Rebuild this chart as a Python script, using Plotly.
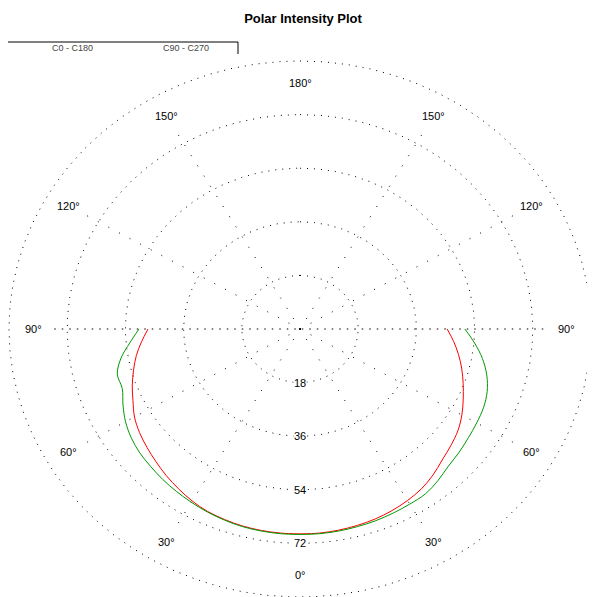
import numpy as np
import plotly.graph_objects as go

# ---- data (gamma measured from nadir, degrees) ----
gamma = [0, 5, 10, 15, 20, 25, 30, 35, 40, 45, 50, 55, 60, 65, 70, 75, 80, 85, 90]
c0 = [68.8, 68.8, 68.6, 68.3, 67.9, 67.3, 66.5, 65.5, 64.0, 62.2, 60.9, 59.6, 57.8, 55.7, 53.7, 51.8, 49.8, 47.7, 45.5]
c180 = [68.8, 68.8, 68.7, 68.5, 68.1, 67.6, 66.7, 65.5, 64.3, 63.0, 61.8, 60.6, 59.1, 57.0, 55.2, 53.3, 51.4, 49.2, 47.0]
c90 = [69.0, 69.0, 68.9, 68.7, 68.5, 68.2, 67.9, 67.6, 66.4, 65.0, 64.3, 63.6, 63.1, 62.6, 61.6, 59.8, 57.3, 54.2, 51.0]
c270 = [69.0, 69.0, 68.9, 68.7, 68.3, 67.8, 67.2, 66.6, 66.0, 65.3, 64.7, 63.7, 62.3, 60.4, 58.5, 58.5, 56.2, 52.8, 49.8]

ring_values = [18, 36, 54, 72, 90]
ring_labels = ["18", "36", "54", "72"]
angle_ticks = [0, 30, 60, 90, 120, 150, 180]
angle_labels = ["0°", "30°", "60°", "90°", "120°", "150°", "180°"]
legend_names = ["C0 - C180", "C90 - C270"]
title_text = "Polar Intensity Plot"

OFF = 8                      # page body margin offset
W, H = 595 - OFF, 597 - OFF
CX, CY = 300 - OFF, 329 - OFF  # centre in figure pixels
RX, RY = 291, 268              # pixel radius of outer ring (90)
RMAX = 90.0

def to_xy(r, g, side):
    g = np.radians(np.asarray(g, dtype=float))
    r = np.asarray(r, dtype=float)
    return side * r * np.sin(g), -r * np.cos(g)

def px(x):
    return (x - OFF) / W

def py(y):
    return 1 - (y - OFF) / H

fig = go.Figure()

# rings
t = np.linspace(0, 2 * np.pi, 721)
for rv in ring_values:
    fig.add_trace(go.Scatter(x=rv * np.sin(t), y=rv * np.cos(t), mode="lines",
                             line=dict(color="black", width=1, dash="1px,6px"),
                             hoverinfo="skip", showlegend=False))

# spokes
for a in [30, 60, 120, 150]:
    for side in (-1, 1):
        xs, ys = to_xy([0, 76], [a, a], side)
        fig.add_trace(go.Scatter(x=xs, y=ys, mode="lines",
                                 line=dict(color="black", width=1, dash="1px,11px"),
                                 hoverinfo="skip", showlegend=False))
fig.add_trace(go.Scatter(x=[-76, 76], y=[0, 0], mode="lines",
                         line=dict(color="black", width=1, dash="1.5px,6px"),
                         hoverinfo="skip", showlegend=False))

# curves
for vals, side, col in [(c180, -1, "#ff0000"), (c0, 1, "#ff0000"),
                        (c270, -1, "#009900"), (c90, 1, "#009900")]:
    xs, ys = to_xy(vals, gamma, side)
    fig.add_trace(go.Scatter(x=xs, y=ys, mode="lines", line=dict(color=col, width=1, shape="spline"),
                             showlegend=False))

FONT = "Liberation Sans, Arial"
ann = []
lab_r = 82.5
for a, lab in zip(angle_ticks, angle_labels):
    sides = (1,) if a in (0, 180) else (-1, 1)
    for side in sides:
        xs, ys = to_xy([lab_r], [a], side)
        ann.append(dict(x=float(xs[0]), y=float(ys[0]), xref="x", yref="y", text=lab,
                        showarrow=False, font=dict(family=FONT, size=11, color="black"),
                        bgcolor="white", borderpad=0))
for rv, lab in zip(ring_values, ring_labels):
    ann.append(dict(x=0, y=-rv, xref="x", yref="y", text=lab, showarrow=False,
                    font=dict(family=FONT, size=11, color="black"),
                    bgcolor="white", borderpad=0))

# legend-like header
for name, lx in zip(legend_names, [72, 186]):
    ann.append(dict(x=px(lx), y=py(48), xref="paper", yref="paper", text=name, showarrow=False,
                    xanchor="center", yanchor="middle",
                    font=dict(family=FONT, size=9, color="#444444")))

shapes = [
    dict(type="line", xref="paper", yref="paper", x0=px(8), x1=px(238), y0=py(42), y1=py(42),
         line=dict(color="black", width=1)),
    dict(type="line", xref="paper", yref="paper", x0=px(238), x1=px(238), y0=py(42), y1=py(54),
         line=dict(color="black", width=1)),
]

xr = [-CX / RX * RMAX, (W - CX) / RX * RMAX]
yr = [-(H - CY) / RY * RMAX, CY / RY * RMAX]

fig.update_layout(
    width=W, height=H,
    margin=dict(l=0, r=0, t=0, b=0),
    paper_bgcolor="white", plot_bgcolor="white",
    xaxis=dict(range=xr, visible=False, fixedrange=True),
    yaxis=dict(range=yr, visible=False, fixedrange=True),
    title=dict(text="<b>" + title_text + "</b>", x=px(303), xanchor="center", y=py(18), yanchor="middle",
               yref="container", xref="container",
               font=dict(family=FONT, size=13, color="black")),
    annotations=ann, shapes=shapes,
)

fig.write_html("out.html")
